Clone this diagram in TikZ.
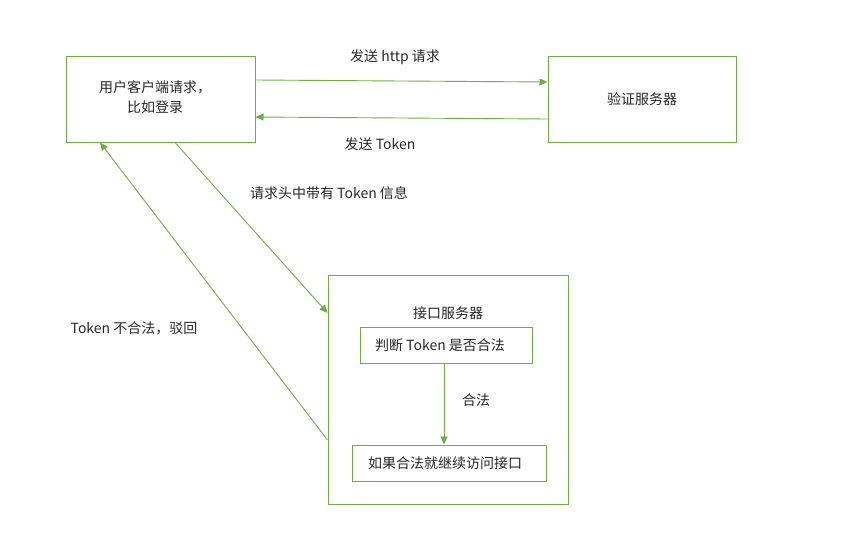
\documentclass[tikz,border=0pt]{standalone}
\usepackage{fontspec}
\setmainfont{Noto Sans CJK SC}
\usetikzlibrary{arrows.meta,positioning}

\definecolor{boxgreen}{RGB}{112,173,71}
\tikzset{
  box/.style={draw=boxgreen, line width=1pt, inner sep=0pt},
  link/.style={draw=boxgreen, line width=0.9pt, -{Triangle[length=8pt,width=7pt]}},
  lbl/.style={inner sep=0pt}
}

\begin{document}
\begin{tikzpicture}[x=1pt, y=1pt, every node/.style={font=\fontsize{14}{16}\selectfont, text=black!85}]
        \useasboundingbox (0,0) rectangle (845,-541);
        % Draw boxes
        \node[box, minimum width=189pt, minimum height=86pt] (client) at (160.5,-99) {};
        \node[lbl] (clienttext) at (155,-99)
        {\begin{tabular}{c}用户客户端请求，\\[3pt]比如登录\end{tabular}};
        \node[box, minimum width=188pt, minimum height=86pt] (auth) at (642,-99) {验证服务器};
        \node[box, minimum width=240pt, minimum height=229pt] (api) at (448,-389.5) {};
        \node[lbl] (apititle) at (448,-313) {接口服务器};
        \node[box, minimum width=172pt, minimum height=36pt] (judge) at (446,-345) {};
        \node[lbl] (judgetext) at (440,-345) {判断 Token 是否合法};
        \node[box, minimum width=194pt, minimum height=36pt] (access) at (449,-463) {};
        \node[lbl] (accesstext) at (445,-463) {如果合法就继续访问接口};
        % Draw arrows
        \draw[link] ([yshift=19pt]client.east) -- ([yshift=17pt]auth.west);
        \draw[link] ([yshift=-20pt]auth.west) -- ([yshift=-18pt]client.east);
        \draw[link] ([xshift=14.5pt]client.south) -- ([yshift=76.5pt]api.west);
        \draw[link] ([yshift=-50.5pt]api.west) -- ([xshift=-60.5pt]client.south);
        \draw[link] ([xshift=-2pt]judge.south) -- ([xshift=-2pt]judge.south |- access.north);
        % Draw labels
        \node[lbl] (sendhttp) at (395,-57) {发送 http 请求};
        \node[lbl] (sendtoken) at (380,-144) {发送 Token};
        \node[lbl] (header) at (329,-193) {请求头中带有 Token 信息};
        \node[lbl] (reject) at (134,-328) {Token 不合法，驳回};
        \node[lbl] (legal) at (476,-400) {合法};
\end{tikzpicture}
\end{document}
